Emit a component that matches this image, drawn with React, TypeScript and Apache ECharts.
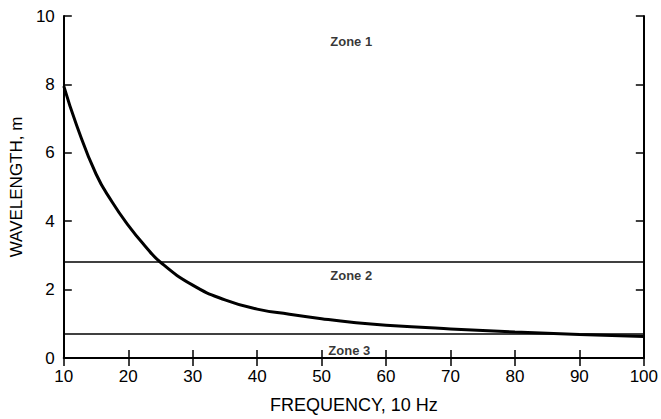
import React, { useEffect, useRef } from "react";
import * as echarts from "echarts";

const frequency = [10, 12, 15, 17.5, 20, 22.5, 25, 30, 35, 40, 45, 50, 55, 60, 70, 80, 90, 100];
const wavelength = [7.95, 6.8, 5.38, 4.56, 3.88, 3.3, 2.8, 2.13, 1.7, 1.43, 1.28, 1.15, 1.04, 0.96, 0.85, 0.76, 0.69, 0.63];
const zoneBoundaries = [2.8, 0.72];
const zoneLabels = ["Zone 1", "Zone 2", "Zone 3"];
const zoneLabelPos = [[54.6, 9.25], [54.6, 2.42], [54.3, 0.23]];

const FONT = "'Liberation Sans', Arial, sans-serif";

export default function App() {
  const ref = useRef<HTMLDivElement>(null);
  useEffect(() => {
    if (!ref.current) return;
    const chart = echarts.init(ref.current, null, { renderer: "svg" });
    const axisLine = { show: true, lineStyle: { color: "#000", width: 2 } };
    const tick = { show: true, inside: true, length: 8, lineStyle: { color: "#000", width: 1.5 } };
    chart.setOption({
      animation: false,
      backgroundColor: "#fff",
      grid: { left: 54, right: 16, top: 16, bottom: 59, containLabel: false },
      xAxis: [
        {
          type: "value", min: 10, max: 100, interval: 10, position: "bottom",
          axisLine, axisTick: tick, splitLine: { show: false },
          axisLabel: { color: "#000", fontSize: 17, fontFamily: FONT, margin: 10 },
          name: "FREQUENCY, 10 Hz", nameLocation: "middle", nameGap: 38,
          nameTextStyle: { color: "#000", fontSize: 18, fontFamily: FONT },
        },
        {
          type: "value", min: 10, max: 100, interval: 10, position: "top",
          axisLine, axisTick: tick, splitLine: { show: false }, axisLabel: { show: false },
        },
      ],
      yAxis: [
        {
          type: "value", min: 0, max: 10, interval: 2, position: "left",
          axisLine, axisTick: tick, splitLine: { show: false },
          axisLabel: { color: "#000", fontSize: 17, fontFamily: FONT, margin: 9 },
          name: "WAVELENGTH, m", nameLocation: "middle", nameGap: 32,
          nameTextStyle: { color: "#000", fontSize: 17, fontFamily: FONT },
        },
        {
          type: "value", min: 0, max: 10, interval: 2, position: "right",
          axisLine, axisTick: tick, splitLine: { show: false }, axisLabel: { show: false },
        },
      ],
      series: [
        {
          type: "line",
          data: frequency.map((f, i) => [f, wavelength[i]]),
          smooth: 0.5,
          showSymbol: false,
          lineStyle: { color: "#000", width: 3 },
          markLine: {
            silent: true,
            symbol: "none",
            label: { show: false },
            lineStyle: { color: "#000", width: 1.6, type: "solid" },
            data: zoneBoundaries.map((v) => ({ yAxis: v })),
          },
        },
        {
          type: "scatter",
          symbolSize: 0,
          data: zoneLabelPos.map((p, i) => ({ value: p, name: zoneLabels[i] })),
          label: {
            show: true,
            position: "inside",
            formatter: (p: any) => p.name,
            color: "#000",
            fontSize: 13,
            fontWeight: "bold",
            fontFamily: FONT,
          },
        },
      ],
    });
    return () => chart.dispose();
  }, []);
  return (
    <div
      ref={ref}
      style={{ position: "absolute", left: 0, top: 0, width: 661, height: 419 }}
    />
  );
}
